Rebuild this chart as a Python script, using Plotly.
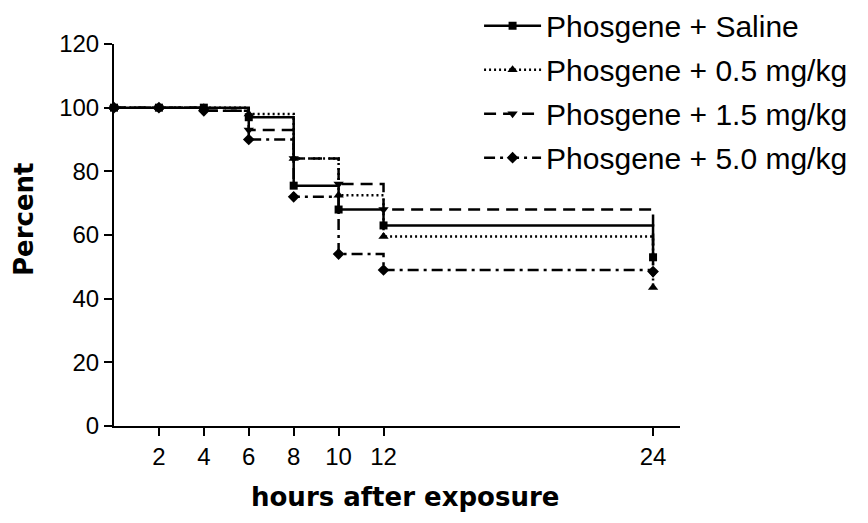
import plotly.graph_objects as go

hours = [0, 2, 4, 6, 8, 10, 12, 24]
saline = [100, 100, 100, 97, 75.5, 68, 63, 53]
dose_05 = [100, 100, 100, 98, 84, 72.5, 59.5, 43.5]
dose_15 = [100, 100, 99, 93, 84, 76, 68, 48]
dose_50 = [100, 100, 99, 90, 72, 54, 49, 48.5]

names = ["Phosgene + Saline", "Phosgene + 0.5 mg/kg",
         "Phosgene + 1.5 mg/kg", "Phosgene + 5.0 mg/kg"]
series = [saline, dose_05, dose_15, dose_50]
dashes = ["solid", "2px,3px", "12px,7px", "11px,5px,3px,5px"]
symbols = ["square", "triangle-up", "triangle-down", "diamond"]
sizes = [8, 9, 9, 9]

x_ticks = [2, 4, 6, 8, 10, 12, 24]
y_ticks = [0, 20, 40, 60, 80, 100, 120]

fig = go.Figure()
for i, (nm, vals) in enumerate(zip(names, series)):
    fig.add_trace(go.Scatter(
        x=hours, y=vals, name=nm, mode="lines+markers",
        line=dict(shape="hv", color="black", width=2.5, dash=dashes[i]),
        marker=dict(symbol=symbols[i], size=sizes[i], color="black"),
        cliponaxis=False, legendgroup=f"g{i}",
    ))

tick_font = dict(family="Liberation Sans Narrow, Liberation Sans, Arial", size=24, color="black")
title_font = dict(family="DejaVu Sans", size=26, color="black", weight="bold")

fig.update_layout(
    width=868, height=523,
    margin=dict(l=106, r=196, t=36, b=105, autoexpand=False),
    paper_bgcolor="white", plot_bgcolor="white",
    showlegend=True,
    legend=dict(x=0.645, y=1.116, xanchor="left", yanchor="top",
                bgcolor="rgba(0,0,0,0)", itemwidth=57, tracegroupgap=2,
                font=dict(family="Liberation Sans, Arial", size=30, color="black")),
    xaxis=dict(range=[0, 25.2], tickvals=x_ticks, ticktext=[str(t) for t in x_ticks],
               showline=True, linecolor="black", linewidth=2, ticks="outside",
               ticklen=8, tickwidth=2, tickcolor="black", showgrid=False,
               zeroline=False, tickfont=tick_font),
    yaxis=dict(range=[0, 120], tickvals=y_ticks, ticktext=[str(t) for t in y_ticks],
               showline=True, linecolor="black", linewidth=2, ticks="outside",
               ticklen=8, tickwidth=2, tickcolor="black", showgrid=False,
               zeroline=False, tickfont=tick_font),
    annotations=[
        dict(text="Percent", xref="paper", yref="paper", x=-0.159, y=0.542,
             textangle=-90, showarrow=False, font=title_font,
             xanchor="center", yanchor="middle"),
        dict(text="hours after exposure", xref="paper", yref="paper", x=0.514, y=-0.186,
             showarrow=False, font=title_font, xanchor="center", yanchor="middle"),
    ],
)

fig.write_html("out.html")
